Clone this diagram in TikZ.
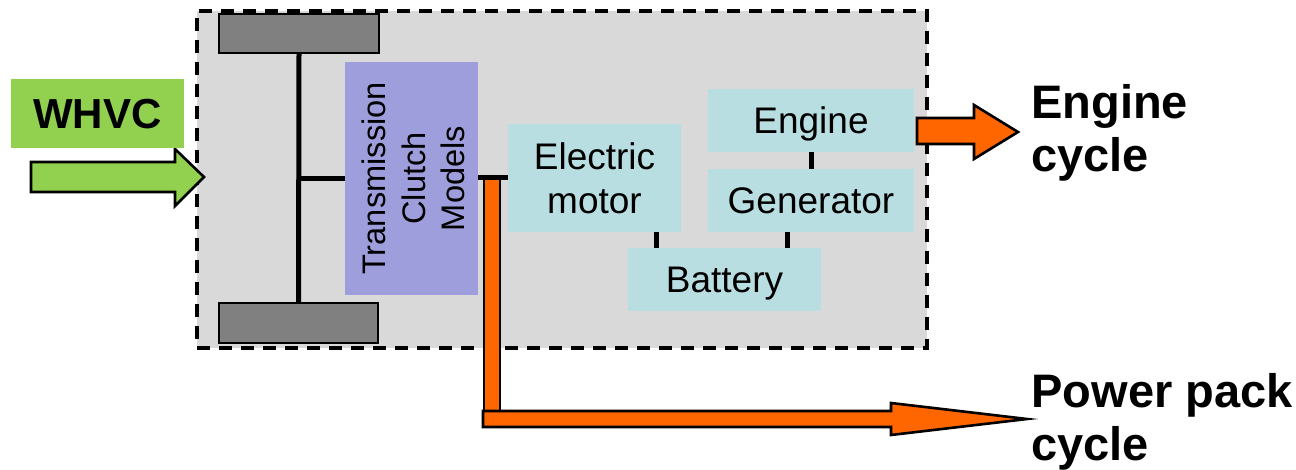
\documentclass[tikz,border=0pt]{standalone}
\usepackage{fontspec}
\setmainfont{Liberation Sans}
\definecolor{boxgray}{RGB}{217,217,217}
\definecolor{wheelgray}{RGB}{128,128,128}
\definecolor{trcol}{RGB}{159,158,220}
\definecolor{cyanbox}{RGB}{185,222,225}
\definecolor{orangeA}{RGB}{255,102,0}
\definecolor{greenA}{RGB}{146,208,80}
\begin{document}
\begin{tikzpicture}[x=0.5pt,y=-0.5pt,
  blk/.style={fill=cyanbox, draw=none, inner sep=0pt, font=\fontsize{18.5}{22}\selectfont, align=center},
  wheel/.style={fill=wheelgray, draw=black, line width=1.2pt, inner sep=0pt},
  link/.style={line width=2.5pt, draw=black},
  barrow/.style={draw=black, line width=1.3pt, line join=miter},
  cyclabel/.style={font=\fontsize{23.5}{26.5}\selectfont\bfseries, align=left, inner sep=0pt, anchor=north west}
]
\useasboundingbox (0,0) rectangle (1296,470);
% system box
\node[draw=black, line width=1.8pt, dash pattern=on 6.5pt off 4.5pt, fill=boxgray,
      minimum width=365pt, minimum height=168.5pt, inner sep=0pt] (sys) at (562,179.5) {};
% wheels
\node[wheel, minimum width=80pt, minimum height=19.5pt] (tw) at (299,33.5) {};
\node[wheel, minimum width=79.5pt, minimum height=20pt] (bw) at (298.5,323) {};
% transmission
\node[fill=trcol, minimum width=66.5pt, minimum height=116.5pt, inner sep=0pt] (tr) at (411.5,178.5) {};
\node[rotate=90, align=center, font=\fontsize{16.3}{19.7}\selectfont, inner sep=0pt] (trt) at ([xshift=1pt]tr.center) {Transmission\\Clutch\\Models};
% components
\node[blk, minimum width=86.5pt, minimum height=54pt] (em) at (594.5,178) {Electric\\motor};
\node[blk, text depth=0pt, minimum width=103pt, minimum height=31.5pt] (eng) at (811,120.5) {Engine};
\node[blk, text depth=0pt, minimum width=103pt, minimum height=31.5pt] (gen) at (811,200.5) {Generator};
\node[blk, text depth=0pt, minimum width=96.5pt, minimum height=31.5pt] (bat) at (724.5,279.5) {Battery};
% orange power pack arrow
\filldraw[barrow, fill=orangeA] (484,179) rectangle (500,427);
\filldraw[barrow, fill=orangeA] (483,411) -- (891,411) -- (891,403) -- (1027,419) -- (891,435) -- (891,427) -- (483,427) -- cycle;
% links
\draw[link] (tw.south) -- (bw.north);
\draw[link] (tw.south |- tr.west) -- (tr.west);
\draw[link] (tr.east |- em.west) -- (em.west);
\draw[link] (eng.south) -- (gen.north);
\draw[link] ([xshift=30.75pt]em.south) -- ([xshift=30.75pt]em.south |- bat.north);
\draw[link] ([xshift=-12pt]gen.south) -- ([xshift=-12pt]gen.south |- bat.north);
% engine arrow
\filldraw[barrow, fill=orangeA] (917,118) -- (974,118) -- (974,105) -- (1018,132) -- (974,159) -- (974,144) -- (917,144) -- cycle;
% green arrow
\filldraw[barrow, fill=greenA] (31,162) -- (175,162) -- (175,149) -- (204,177) -- (175,206) -- (175,192) -- (31,192) -- cycle;
\node[fill=greenA, minimum width=86.5pt, minimum height=34.5pt, inner sep=0pt, text depth=0pt,
      font=\fontsize{21}{25}\selectfont\bfseries] (whvc) at (97.5,113.5) {WHVC};
% labels
\node[cyclabel] (ec) at (1031,84) {Engine\\cycle};
\node[cyclabel] (pc) at (1031,373.5) {Power pack\\cycle};
\end{tikzpicture}
\end{document}
